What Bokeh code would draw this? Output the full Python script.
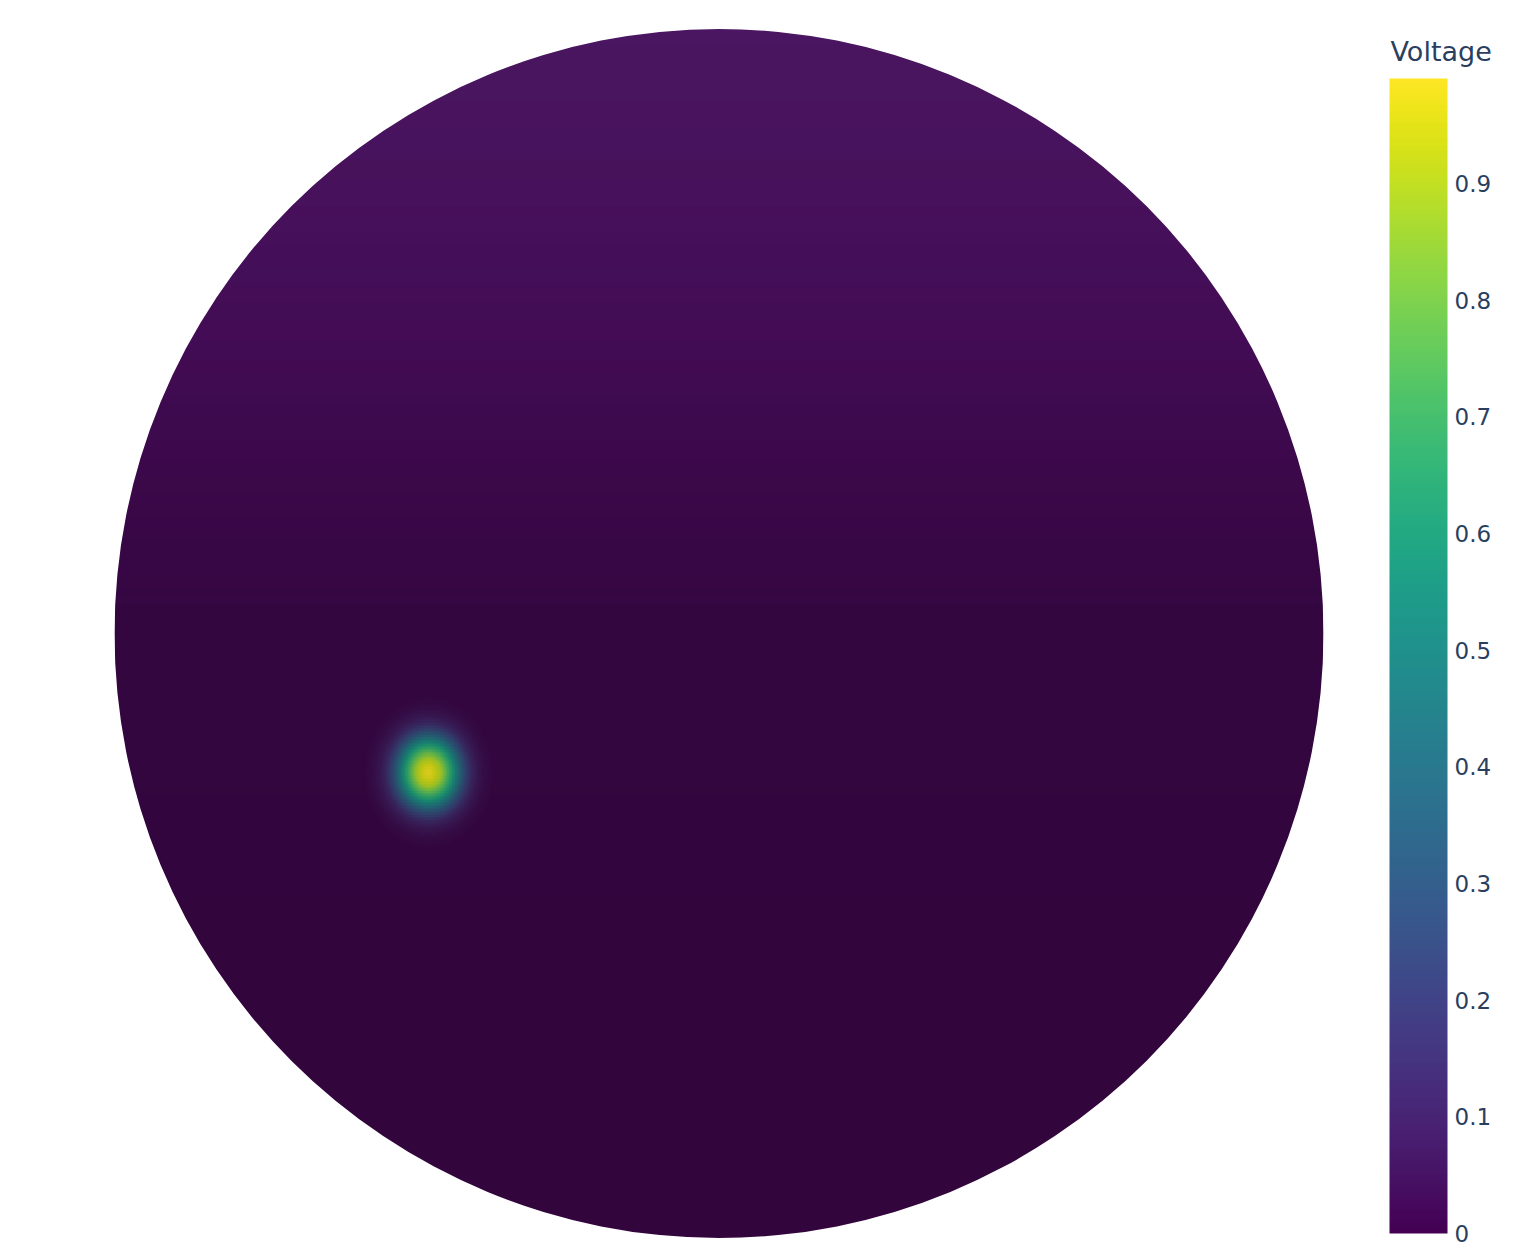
import numpy as np
from bokeh.plotting import figure
from bokeh.models import LinearColorMapper, ColorBar, FixedTicker, Range1d, Label
from bokeh.palettes import Viridis256
from bokeh.embed import file_html
from bokeh.resources import INLINE

# ---------------- data ----------------
disk_radius = 1.0
spot_x = -0.481          # location of the voltage peak (normalised disk units)
spot_y = -0.230
spot_aspect = 1.15       # spot is slightly taller than wide
# radial voltage profile of the spot (distance in disk units, voltage)
spot_r = [0.0, 0.0099, 0.0199, 0.0281, 0.038, 0.0463, 0.0546, 0.0629, 0.0711, 0.081, 0.0926, 0.109]
spot_v = [0.985, 0.95, 0.88, 0.77, 0.62, 0.47, 0.33, 0.21, 0.12, 0.06, 0.025, 0.0]
bg_y = [-1.0, -0.5, 0.0, 0.25, 0.5, 0.75, 1.0]          # background profile heights
bg_voltage = [0.0, 0.002, 0.006, 0.015, 0.03, 0.045, 0.055]
# surface lighting (as seen in the picture)
shade_alpha = [0.28, 0.28, 0.27, 0.20, 0.16, 0.15, 0.15]
shade_r = [7, 7, 7, 20, 50, 80, 100]
shade_g = [19, 19, 19, 20, 22, 25, 30]
shade_b = [5, 5, 5, 10, 40, 50, 60]
v_min = 0.0
v_max = 0.99
cbar_ticks = [0, 0.1, 0.2, 0.3, 0.4, 0.5, 0.6, 0.7, 0.8, 0.9]
cbar_labels = ["0", "0.1", "0.2", "0.3", "0.4", "0.5", "0.6", "0.7", "0.8", "0.9"]
cbar_title = "Voltage"

# ---------------- field on a grid ----------------
n = 801
xs = np.linspace(-disk_radius, disk_radius, n)
ys = np.linspace(-disk_radius, disk_radius, n)
X, Y = np.meshgrid(xs, ys)
R = np.sqrt((X - spot_x) ** 2 + ((Y - spot_y) / spot_aspect) ** 2)
V = np.interp(Y, bg_y, bg_voltage) + np.interp(R, spot_r, spot_v)
V = V.astype(np.float32)

# lighting overlay (rgba)
A = np.interp(Y, bg_y, shade_alpha) * (1 - 0.5 * np.clip(V / v_max, 0, 1))
shade = np.empty((n, n), dtype=np.uint32)
view = shade.view(dtype=np.uint8).reshape((n, n, 4))
view[..., 0] = np.interp(Y, bg_y, shade_r).astype(np.uint8)
view[..., 1] = np.interp(Y, bg_y, shade_g).astype(np.uint8)
view[..., 2] = np.interp(Y, bg_y, shade_b).astype(np.uint8)
view[..., 3] = (A * 255).astype(np.uint8)

# ---------------- figure ----------------
W, H = 1532, 1258
px_per_unit = 604.5
cx, cy = 718.5, 633.0
x_range = Range1d(-cx / px_per_unit, (W - cx) / px_per_unit)
y_range = Range1d(-(H - cy) / px_per_unit, cy / px_per_unit)

p = figure(width=W, height=H, x_range=x_range, y_range=y_range,
           x_axis_location=None, y_axis_location=None,
           toolbar_location=None, output_backend="svg", min_border=0)
p.outline_line_color = None
p.grid.visible = False
p.background_fill_color = "white"

mapper = LinearColorMapper(palette=Viridis256, low=v_min, high=v_max)
p.image(image=[V], x=-disk_radius, y=-disk_radius, dw=2 * disk_radius, dh=2 * disk_radius,
        color_mapper=mapper)
p.image_rgba(image=[shade], x=-disk_radius, y=-disk_radius, dw=2 * disk_radius, dh=2 * disk_radius)
p.annulus(x=0, y=0, inner_radius=disk_radius, outer_radius=5 * disk_radius,
          fill_color="white", line_color=None)

cb = ColorBar(color_mapper=mapper,
              ticker=FixedTicker(ticks=cbar_ticks),
              major_label_overrides={t: l for t, l in zip(cbar_ticks, cbar_labels)},
              location=(1389, 25), width=58, height=1155,
              padding=0, margin=0,
              major_label_text_font="DejaVu Sans", major_label_text_font_size="23px",
              major_label_text_color="#2a3f5f",
              label_standoff=7,
              major_tick_line_color=None, minor_tick_line_color=None,
              bar_line_color=None, border_line_color=None,
              background_fill_alpha=0)
p.add_layout(cb)

title = Label(x=1390, y=H - 51, x_units="screen", y_units="screen", text=cbar_title,
              text_font="DejaVu Sans", text_font_size="27px", text_color="#2a3f5f",
              text_baseline="alphabetic", text_align="left")
p.add_layout(title)

open("out.html", "w").write(file_html(p, INLINE))
